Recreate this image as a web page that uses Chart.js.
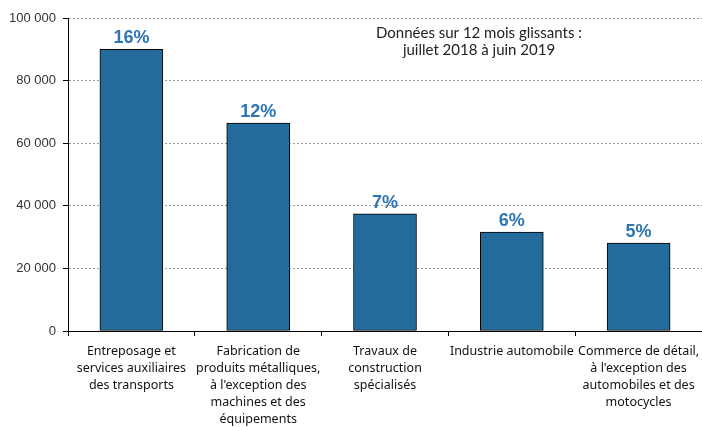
<!DOCTYPE html>
<html>
<head>
<meta charset="utf-8">
<script src="https://cdn.jsdelivr.net/npm/chart.js@4"></script>
<style>
  html, body { margin: 0; padding: 0; background: #fff; }
  #wrap { width: 702px; height: 428px; }
</style>
</head>
<body>
<div id="wrap"><canvas id="chart" width="702" height="428"></canvas></div>
<script>
const categories = [
  ["Entreposage et", "services auxiliaires", "des transports"],
  ["Fabrication de", "produits métalliques,", "à l'exception des", "machines et des", "équipements"],
  ["Travaux de", "construction", "spécialisés"],
  ["Industrie automobile"],
  ["Commerce de détail,", "à l'exception des", "automobiles et des", "motocycles"]
];
const values = [90000, 66400, 37400, 31600, 28100];
const shares = ["16%", "12%", "7%", "6%", "5%"];
const yTicks = [0, 20000, 40000, 60000, 80000, 100000];
const note = ["Données sur 12 mois glissants :", "juillet 2018 à juin 2019"];

const ctx = document.getElementById('chart').getContext('2d');

function fmt(v) {
  return String(v).replace(/\B(?=(\d{3})+(?!\d))/g, " ");
}

// percentages above the bars + the note in the corner
const labelsPlugin = {
  id: 'labels',
  afterDatasetsDraw(chart) {
    const c = chart.ctx;
    const meta = chart.getDatasetMeta(0);
    c.save();
    c.fillStyle = '#2e75b6';
    c.font = 'bold 18px "Liberation Sans", Arial, sans-serif';
    c.textAlign = 'center';
    c.textBaseline = 'alphabetic';
    meta.data.forEach((bar, i) => {
      c.fillText(shares[i], bar.x, bar.y - 6);
    });
    c.fillStyle = '#222';
    c.font = '15px Lato, "Open Sans", sans-serif';
    c.textBaseline = 'middle';
    const area = chart.chartArea;
    note.forEach((line, i) => {
      c.fillText(line, 479, area.top + 15 + i * 17);
    });
    c.restore();
  }
};

const chart = new Chart(ctx, {
  type: 'bar',
  data: {
    labels: categories,
    datasets: [{
      data: values,
      backgroundColor: '#236b9b',
      borderColor: '#000',
      borderWidth: 1,
      borderSkipped: false,
      barThickness: 63
    }]
  },
  options: {
    responsive: false,
    animation: false,
    layout: { padding: { top: 18, right: -1, left: 0, bottom: 0 } },
    plugins: {
      legend: { display: false },
      tooltip: { enabled: false }
    },
    scales: {
      x: {
        offset: true,
        grid: {
          offset: true,
          drawOnChartArea: false,
          drawTicks: true,
          tickLength: 5,
          color: '#000'
        },
        border: { color: '#000', width: 1 },
        ticks: {
          color: '#111',
          maxRotation: 0,
          autoSkip: false,
          padding: 7,
          font: { family: '"Noto Sans", "Open Sans", sans-serif', size: 12.5, lineHeight: 1.35 }
        },
        afterFit(scale) {
          scale.height = 97;
          scale.paddingLeft = 0;
          scale.paddingRight = 0;
        }
      },
      y: {
        min: 0,
        max: 100000,
        afterBuildTicks(scale) { scale.ticks = yTicks.map(v => ({ value: v })); },
        grid: {
          color: '#9a9a9a',
          tickColor: '#000',
          tickLength: 5,
          lineWidth: 1,
          tickBorderDash: []
        },
        border: { color: '#000', width: 1, dash: [2, 2] },
        ticks: {
          color: '#333',
          padding: 7,
          font: { family: '"Liberation Sans", Arial, sans-serif', size: 13 },
          callback: v => fmt(v)
        },
        afterFit(scale) { scale.width = 68; }
      }
    }
  },
  plugins: [labelsPlugin]
});
</script>
</body>
</html>
